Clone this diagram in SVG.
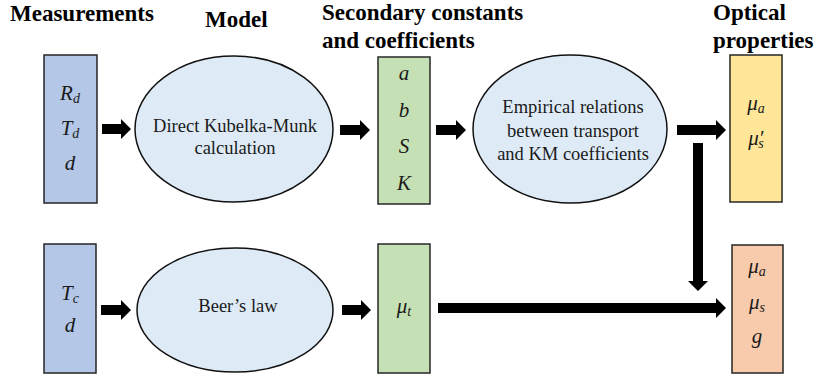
<svg xmlns="http://www.w3.org/2000/svg" width="816" height="381" viewBox="0 0 816 381">
<style>
.h{font-family:"Liberation Serif","Times New Roman",serif;font-weight:bold;font-size:23px;fill:#000}
.t{font-family:"Liberation Serif","Times New Roman",serif;font-size:18.5px;fill:#1a1a1a;text-anchor:middle}
.m{font-family:"Liberation Serif","Times New Roman",serif;font-style:italic;font-size:21px;fill:#1a1a1a;text-anchor:middle}
.s{font-size:14px}
.box{stroke:#262626;stroke-width:1.5}
.ell{fill:#DEEBF7;stroke:#111;stroke-width:1.5}
.blue{fill:#B4C7E7}.green{fill:#C5E0B4}.yellow{fill:#FFE699}.orange{fill:#F8CBAD}
.arr{fill:#000}
</style>
<rect width="816" height="381" fill="#fff"/>
<g id="headings">
<text class="h" x="10" y="21">Measurements</text>
<text class="h" x="205" y="27">Model</text>
<text class="h" x="322" y="20">Secondary constants</text>
<text class="h" x="322" y="48">and coefficients</text>
<text class="h" x="713" y="20">Optical</text>
<text class="h" x="713" y="48">properties</text>
</g>
<g id="meas1">
<rect class="box blue" x="44" y="55" width="53" height="148"/>
<text class="m" x="70" y="100">R<tspan class="s" dy="3">d</tspan></text>
<text class="m" x="70" y="135">T<tspan class="s" dy="3">d</tspan></text>
<text class="m" x="70" y="170">d</text>
</g>
<g id="km">
<ellipse class="ell" cx="234" cy="129" rx="99" ry="73"/>
<text class="t" x="235" y="132">Direct Kubelka-Munk</text>
<text class="t" x="235" y="154">calculation</text>
</g>
<g id="coef">
<rect class="box green" x="378" y="57" width="52" height="147"/>
<text class="m" x="404" y="80">a</text>
<text class="m" x="404" y="117">b</text>
<text class="m" x="404" y="153">S</text>
<text class="m" x="404" y="190">K</text>
</g>
<g id="empirical">
<ellipse class="ell" cx="570" cy="129" rx="97" ry="74"/>
<text class="t" x="573" y="113">Empirical relations</text>
<text class="t" x="573" y="137">between transport</text>
<text class="t" x="573" y="160">and KM coefficients</text>
</g>
<g id="opt1">
<rect class="box yellow" x="730" y="55" width="52" height="147"/>
<text class="m" x="756" y="110">μ<tspan class="s" dy="3">a</tspan></text>
<text class="m" x="756" y="145">μ′<tspan class="s" dx="-5" dy="3">s</tspan></text>
</g>
<g id="meas2">
<rect class="box blue" x="44" y="244" width="52" height="129"/>
<text class="m" x="70" y="300">T<tspan class="s" dy="3">c</tspan></text>
<text class="m" x="70" y="332">d</text>
</g>
<g id="beer">
<ellipse class="ell" cx="235" cy="310" rx="98" ry="62"/>
<text class="t" x="238" y="312">Beer’s law</text>
</g>
<g id="mut">
<rect class="box green" x="378" y="244" width="52" height="129"/>
<text class="m" x="404" y="313">μ<tspan class="s" dy="3">t</tspan></text>
</g>
<g id="opt2">
<rect class="box orange" x="732" y="245" width="51" height="128"/>
<text class="m" x="757" y="273">μ<tspan class="s" dy="3">a</tspan></text>
<text class="m" x="757" y="309">μ<tspan class="s" dy="3">s</tspan></text>
<text class="m" x="757" y="343">g</text>
</g>
<g id="connectors" class="arr">
<path d="M102,124H121V119L131,129L121,139V134H102Z"/>
<path d="M340,125H360V120L370,130L360,140V135H340Z"/>
<path d="M436,125H456V120L466,130L456,140V135H436Z"/>
<path d="M677,125H716V120L726,130L716,140V135H677Z"/>
<path d="M693,143V281H688L698,291L708,281H703V143Z"/>
<path d="M101,305H121V300L131,310L121,320V315H101Z"/>
<path d="M342,305H361V300L371,310L361,320V315H342Z"/>
<path d="M438,303H716V298L726,308L716,318V313H438Z"/>
</g>
</svg>
